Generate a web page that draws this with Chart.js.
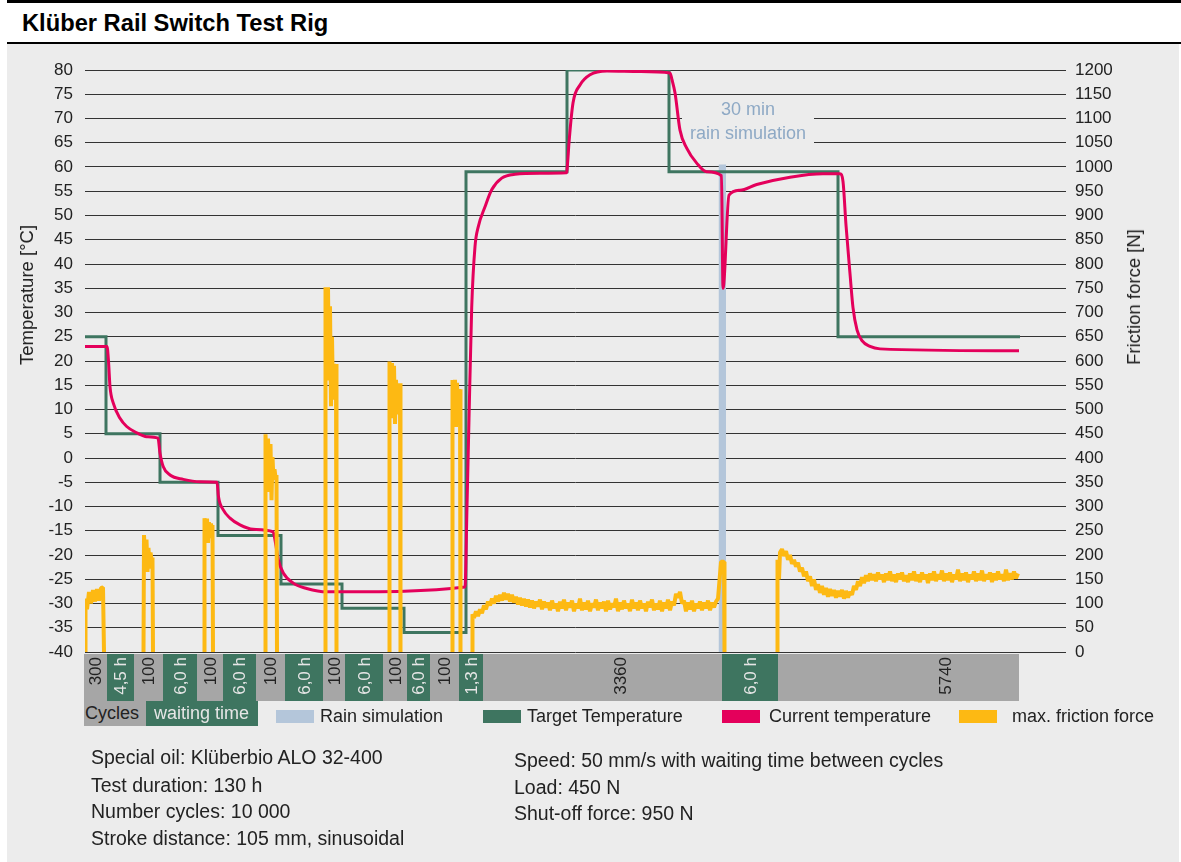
<!DOCTYPE html>
<html>
<head>
<meta charset="utf-8">
<title>Klüber Rail Switch Test Rig</title>
<script src="https://cdn.jsdelivr.net/npm/chart.js@4.4.1/dist/chart.umd.min.js"></script>
<style>
  html, body { margin: 0; padding: 0; background: #fff; }
  body { width: 1181px; height: 862px; position: relative; overflow: hidden;
         font-family: "Liberation Sans", Arial, sans-serif; color: #222; }
  .topbar { position: absolute; left: 7px; top: 0; width: 1174px; height: 3px; background: #000; }
  .title  { position: absolute; left: 22px; top: 9px; font-size: 23.7px; line-height: 28px; font-weight: bold; color: #000; }
  .rule   { position: absolute; left: 7px; top: 42px; width: 1174px; height: 2px; background: #000; }
  .panel  { position: absolute; left: 7px; top: 44px; width: 1172px; height: 818px; background: #ececec; }
  canvas  { position: absolute; left: 0; top: 0; }
  .t      { position: absolute; font-size: 18px; line-height: 20px; white-space: nowrap; }
  .note   { position: absolute; font-size: 19.5px; line-height: 22px; white-space: nowrap; }
  .axis-title { position: absolute; font-size: 18.5px; line-height: 20px; white-space: nowrap;
                transform: translate(-50%, -50%) rotate(-90deg); }
  .rain-note { position: absolute; left: 682px; top: 97px; width: 132px; height: 55px;
               color: #8ea9c5; font-size: 18px; line-height: 24px; text-align: center; }
  .box    { position: absolute; top: 701px; height: 25px; font-size: 18px; line-height: 25px; white-space: nowrap; }
  .swatch { position: absolute; top: 710px; width: 38px; height: 13px; }
</style>
</head>
<body>
<div class="topbar"></div>
<div class="title">Klüber Rail Switch Test Rig</div>
<div class="rule"></div>
<div class="panel"></div>
<canvas id="chart" width="1181" height="862"></canvas>

<div class="axis-title" style="left:27px; top:295px;">Temperature [°C]</div>
<div class="axis-title" style="left:1134px; top:297px;">Friction force [N]</div>
<div class="rain-note" id="rainNote">30 min<br>rain simulation</div>

<!-- legend -->
<div class="box" style="left:84px; width:62px; background:#a6a6a6; color:#222; padding-left:1px;">Cycles</div>
<div class="box" style="left:146px; width:104px; background:#3e7560; color:#e6e6e6; padding-left:8px;">waiting time</div>
<div class="swatch" style="left:276px; background:#b4c6da;"></div>
<div class="t" style="left:320px; top:706px;">Rain simulation</div>
<div class="swatch" style="left:483px; background:#3e7560;"></div>
<div class="t" style="left:527px; top:706px;">Target Temperature</div>
<div class="swatch" style="left:722px; background:#e4005b;"></div>
<div class="t" style="left:769px; top:706px;">Current temperature</div>
<div class="swatch" style="left:959px; background:#fdb913;"></div>
<div class="t" style="left:1012px; top:706px;">max. friction force</div>

<!-- test conditions -->
<div class="note" style="left:91px; top:746px;">Special oil: Klüberbio ALO 32-400</div>
<div class="note" style="left:91px; top:774px;">Test duration: 130 h</div>
<div class="note" style="left:91px; top:800px;">Number cycles: 10 000</div>
<div class="note" style="left:91px; top:827px;">Stroke distance: 105 mm, sinusoidal</div>
<div class="note" style="left:514px; top:749px;">Speed: 50 mm/s with waiting time between cycles</div>
<div class="note" style="left:514px; top:776px;">Load: 450 N</div>
<div class="note" style="left:514px; top:802px;">Shut-off force: 950 N</div>

<script>
// ---- tick labels ----
const tempTicks  = [80, 75, 70, 65, 60, 55, 50, 45, 40, 35, 30, 25, 20, 15, 10, 5, 0,
                    -5, -10, -15, -20, -25, -30, -35, -40];
const forceTicks = [1200, 1150, 1100, 1050, 1000, 950, 900, 850, 800, 750, 700, 650, 600,
                    550, 500, 450, 400, 350, 300, 250, 200, 150, 100, 50, 0];

// x = test progress (arbitrary units along the run, 0 = start)
const X_MAX = 981;

// ---- cycle / waiting-time band ----
const segEdges  = [-1, 22, 49, 78, 112, 138, 171, 200, 238, 260, 298, 322, 345, 374, 398, 637, 693, 934];
const segLabels = ['300', '4,5 h', '100', '6,0 h', '100', '6,0 h', '100', '6,0 h', '100', '6,0 h',
                   '100', '6,0 h', '100', '1,3 h', '3360', '6,0 h', '5740'];
const segLabelAt = { 14: 535, 16: 860 };   // labels not centred in their block

// ---- target temperature [°C] (step line) ----
const targetTemp = [[0, 25], [21, 5], [75, -5], [133, -16], [196, -26], [257, -31], [319, -36],
                    [381, 59], [482, 80], [584, 59], [753, 25], [935, 25]];

// ---- current temperature [°C] ----
const currentTemp = [
  [0, 23], [22, 23], [23.5, 20], [25, 14.7], [28.3, 11.3], [35, 8.2], [41.7, 6.5], [51.7, 5.2], [61.7, 4.4], [73, 4.1],
  [75, 1.0], [78.3, -1.8], [85, -3.5], [98.3, -4.4], [115, -4.9], [132, -5.0],
  [133.5, -8], [138.3, -10.7], [145, -12.4], [155, -13.8], [168.3, -14.7], [188, -15.2],
  [190.5, -17.5], [193.3, -21], [198.3, -23.7], [208.3, -25.8], [221.7, -26.9], [241.7, -27.6], [258.3, -27.6], [380, -26.6],
  [382, -10], [384, 8], [386.7, 31], [390, 43.6], [393.3, 47.7], [400, 51.8], [406.7, 55.3], [416.7, 57.7], [430, 58.5], [455, 58.7], [481.5, 58.8],
  [483, 62], [484, 65], [488, 73.2], [495, 76.9], [505, 79], [522, 79.8], [555, 79.7], [585, 79.4],
  [587, 78], [590, 75.3], [595, 67.6], [601.7, 63.9], [611.7, 60.8], [621.7, 59], [636.5, 58.2],
  [638, 35], [644, 54.2], [655, 55.2], [671.7, 56.4], [705, 57.9], [738, 58.6], [755, 58.6],
  [758, 57], [761, 48], [765, 38], [768, 31], [772, 26.4], [777, 24.2], [785, 23], [795, 22.5], [934, 22.1]
];

// ---- rain simulation [N axis] ----
const rainSim = [[633.5, 1005], [641, 1005]];

// ---- max. friction force [N], one array per test run ----
const frictionRun1 = [[0, 0], [0.5, 110], [2, 88], [4, 124], [6, 100], [8, 128], [10, 104], [12, 130], [14, 106], [16, 132], [18, 133], [19, 0]];
const frictionRun2 = [[58.5, 0], [59, 241], [60.5, 175], [61.5, 232], [62.5, 165], [63.5, 215], [64.5, 172], [65.5, 205], [66.5, 190], [67.5, 195], [68, 0]];
const frictionRun3 = [[119, 0], [119.5, 276], [121, 230], [122, 275], [123, 225], [124, 268], [125, 235], [126, 265], [127, 240], [127.5, 262], [128, 0]];
const frictionRun4 = [[180, 0], [180.5, 449], [182, 360], [183, 440], [184.5, 330], [185.5, 429], [186.5, 313], [187.5, 402], [188.5, 355], [189.5, 377], [190.5, 360], [191.5, 365], [192, 0]];
const frictionRun5 = [[240, 0], [240.5, 752], [242, 600], [243, 752], [244, 560], [245, 713], [246, 507], [247, 650], [248, 520], [249, 594], [250, 560], [251, 594], [251.5, 0]];
const frictionRun6 = [[304, 0], [304.5, 599], [306, 520], [307, 596], [308, 482], [309, 590], [310, 470], [311, 561], [312, 490], [313, 554], [314, 520], [315, 554], [315.5, 0]];
const frictionRun7 = [[367, 0], [367.5, 561], [369, 500], [370, 561], [371, 464], [372, 555], [373, 490], [374, 542], [374.5, 520], [375, 542], [375.5, 0]];
const frictionRun8 = [
  [387, 0], [387.5, 78], [389, 70], [391, 84], [393, 74], [395, 88], [397, 80], [399, 96], [401, 88], [403, 104],
  [405, 96], [407, 110], [409, 100], [411, 116], [413, 104], [415, 118], [417, 106], [419, 122], [421, 108], [423, 120],
  [425, 104], [427, 118], [429, 102], [431, 114], [433, 98], [435, 112], [437, 96], [439, 110], [441, 94], [443, 108],
  [445, 92], [447, 106], [449, 90], [451, 104], [453, 94], [455, 108], [457, 88], [459, 104], [461, 92], [463, 102],
  [465, 86], [467, 106], [469, 90], [471, 100], [473, 84], [475, 104], [477, 90], [479, 108], [481, 86], [483, 102],
  [485, 92], [487, 106], [489, 84], [491, 100], [493, 90], [495, 110], [497, 86], [499, 102], [501, 88], [503, 106],
  [505, 84], [507, 100], [509, 92], [511, 108], [513, 86], [515, 102], [517, 90], [519, 104], [521, 84], [523, 106],
  [525, 88], [527, 100], [529, 92], [531, 110], [533, 84], [535, 102], [537, 88], [539, 106], [541, 90], [543, 100],
  [545, 84], [547, 108], [549, 90], [551, 102], [553, 86], [555, 106], [557, 90], [559, 100], [561, 84], [563, 104],
  [565, 92], [567, 108], [569, 86], [571, 100], [573, 88], [575, 106], [577, 84], [579, 102], [581, 90], [583, 108],
  [585, 86], [587, 104], [589, 96], [591, 120], [593, 112], [595, 124], [597, 100], [599, 106], [601, 84], [603, 102],
  [605, 88], [607, 106], [609, 84], [611, 100], [613, 90], [615, 104], [617, 86], [619, 102], [621, 90], [623, 106],
  [625, 86], [627, 102], [629, 92], [631, 104], [633, 110], [635, 160], [636, 186], [639, 186], [639.5, 0]
];
const frictionRun9 = [
  [692, 0], [692.5, 190], [694, 150], [695, 205], [697, 212], [699, 198], [701, 208], [703, 190], [705, 200], [707, 182],
  [709, 190], [711, 176], [713, 184], [715, 166], [717, 174], [719, 156], [721, 166], [723, 146], [725, 156], [727, 136],
  [729, 150], [731, 128], [733, 140], [735, 122], [737, 136], [739, 118], [741, 132], [743, 114], [745, 130], [747, 116],
  [749, 128], [751, 112], [753, 126], [755, 114], [757, 128], [759, 110], [761, 126], [763, 112], [765, 124], [767, 118],
  [769, 136], [771, 128], [773, 146], [775, 136], [777, 154], [779, 142], [781, 158], [783, 146], [785, 162], [787, 148],
  [789, 160], [791, 146], [793, 164], [795, 150], [797, 160], [799, 144], [801, 162], [803, 148], [805, 166], [807, 146],
  [809, 160], [811, 144], [813, 162], [815, 150], [817, 164], [819, 146], [821, 158], [823, 144], [825, 162], [827, 148],
  [829, 166], [831, 146], [833, 160], [835, 144], [837, 164], [839, 150], [841, 160], [843, 142], [845, 162], [847, 148],
  [849, 166], [851, 146], [853, 160], [855, 150], [857, 168], [859, 146], [861, 162], [863, 148], [865, 164], [867, 144],
  [869, 160], [871, 150], [873, 170], [875, 146], [877, 162], [879, 148], [881, 164], [883, 144], [885, 160], [887, 150],
  [889, 166], [891, 146], [893, 162], [895, 148], [897, 168], [899, 146], [901, 160], [903, 150], [905, 164], [907, 144],
  [909, 162], [911, 148], [913, 166], [915, 150], [917, 160], [919, 146], [921, 170], [923, 148], [925, 162], [927, 150],
  [929, 166], [931, 152], [933, 162]
];
const frictionRuns = [frictionRun1, frictionRun2, frictionRun3, frictionRun4, frictionRun5,
                      frictionRun6, frictionRun7, frictionRun8, frictionRun9];

/* ==================== colours ==================== */
const GREEN   = '#3e7560';
const MAGENTA = '#e4005b';
const YELLOW  = '#fdb913';
const RAIN    = '#b4c6da';
const BANDGRY = '#a6a6a6';
const PANEL   = '#ececec';

const toPts = arr => arr.map(([x, y]) => ({ x, y }));

// runs separated by gaps so nothing is drawn along the zero line between them
const frictionPts = [];
frictionRuns.forEach((run, i) => {
  if (i > 0) frictionPts.push({ x: run[0][0] - 0.1, y: null });
  frictionPts.push(...toPts(run));
});

/* ==================== label backdrop: hides grid lines behind the rain note ==================== */
const noteBackdrop = {
  id: 'noteBackdrop',
  beforeDatasetsDraw(chart) {
    const r = document.getElementById('rainNote').getBoundingClientRect();
    const c = chart.canvas.getBoundingClientRect();
    const { ctx } = chart;
    ctx.save();
    ctx.fillStyle = PANEL;
    ctx.fillRect(r.left - c.left, r.top - c.top, r.width, r.height);
    ctx.restore();
  }
};

/* ==================== cycle band below the plot ==================== */
const cycleBand = {
  id: 'cycleBand',
  afterDraw(chart) {
    const { ctx, chartArea, scales: { x } } = chart;
    const top = chartArea.bottom + 2;
    const h = 47;
    ctx.save();
    segLabels.forEach((lab, i) => {
      const x0 = Math.round(x.getPixelForValue(segEdges[i]));
      const x1 = Math.round(x.getPixelForValue(segEdges[i + 1]));
      ctx.fillStyle = i % 2 ? GREEN : BANDGRY;
      ctx.fillRect(x0, top, x1 - x0, h);
    });
    ctx.font = '17px "Liberation Sans", Arial, sans-serif';
    ctx.textAlign = 'right';
    ctx.textBaseline = 'middle';
    segLabels.forEach((lab, i) => {
      const v = segLabelAt[i] !== undefined ? segLabelAt[i] : (segEdges[i] + segEdges[i + 1]) / 2;
      const cx = x.getPixelForValue(v);
      ctx.save();
      ctx.translate(cx + 1, top + 3);
      ctx.rotate(-Math.PI / 2);
      ctx.fillStyle = i % 2 ? '#e6e6e6' : '#222';
      ctx.fillText(lab, 0, 0);
      ctx.restore();
    });
    ctx.restore();
  }
};

Chart.defaults.font.family = '"Liberation Sans", Arial, sans-serif';

new Chart(document.getElementById('chart'), {
  type: 'line',
  data: {
    datasets: [
      {
        label: 'max. friction force',
        data: frictionPts,
        yAxisID: 'yF',
        borderColor: YELLOW,
        borderWidth: 4,
        borderJoinStyle: 'bevel',
        spanGaps: false,
        order: 0
      },
      {
        label: 'Current temperature',
        data: toPts(currentTemp),
        yAxisID: 'yT',
        borderColor: MAGENTA,
        borderWidth: 3,
        cubicInterpolationMode: 'monotone',
        order: 1
      },
      {
        label: 'Target Temperature',
        data: toPts(targetTemp),
        yAxisID: 'yT',
        borderColor: GREEN,
        borderWidth: 3,
        stepped: true,
        order: 2
      },
      {
        label: 'Rain simulation',
        data: toPts(rainSim),
        yAxisID: 'yF',
        borderWidth: 0,
        borderColor: RAIN,
        backgroundColor: RAIN,
        fill: 'origin',
        order: 3
      }
    ]
  },
  options: {
    responsive: false,
    animation: false,
    devicePixelRatio: 1,
    layout: { padding: { top: 70, bottom: 210, left: 0, right: 0 } },
    elements: { point: { radius: 0 }, line: { tension: 0 } },
    plugins: { legend: { display: false }, tooltip: { enabled: false } },
    scales: {
      x: { type: 'linear', min: 0, max: X_MAX, display: false },
      yT: {
        position: 'left',
        min: tempTicks[tempTicks.length - 1],
        max: tempTicks[0],
        afterBuildTicks: s => { s.ticks = tempTicks.map(v => ({ value: v })); },
        afterFit: s => { s.width = 85; },
        grid: { color: '#333', lineWidth: 1, drawTicks: false },
        border: { display: false },
        ticks: { padding: 12, color: '#222', font: { size: 17 }, callback: v => String(v) }
      },
      yF: {
        position: 'right',
        min: forceTicks[forceTicks.length - 1],
        max: forceTicks[0],
        afterBuildTicks: s => { s.ticks = forceTicks.map(v => ({ value: v })); },
        afterFit: s => { s.width = 115; },
        grid: { display: false, drawTicks: false },
        border: { display: false },
        ticks: { padding: 9, color: '#222', font: { size: 17 }, callback: v => String(v) }
      }
    }
  },
  plugins: [noteBackdrop, cycleBand]
});
</script>
</body>
</html>
